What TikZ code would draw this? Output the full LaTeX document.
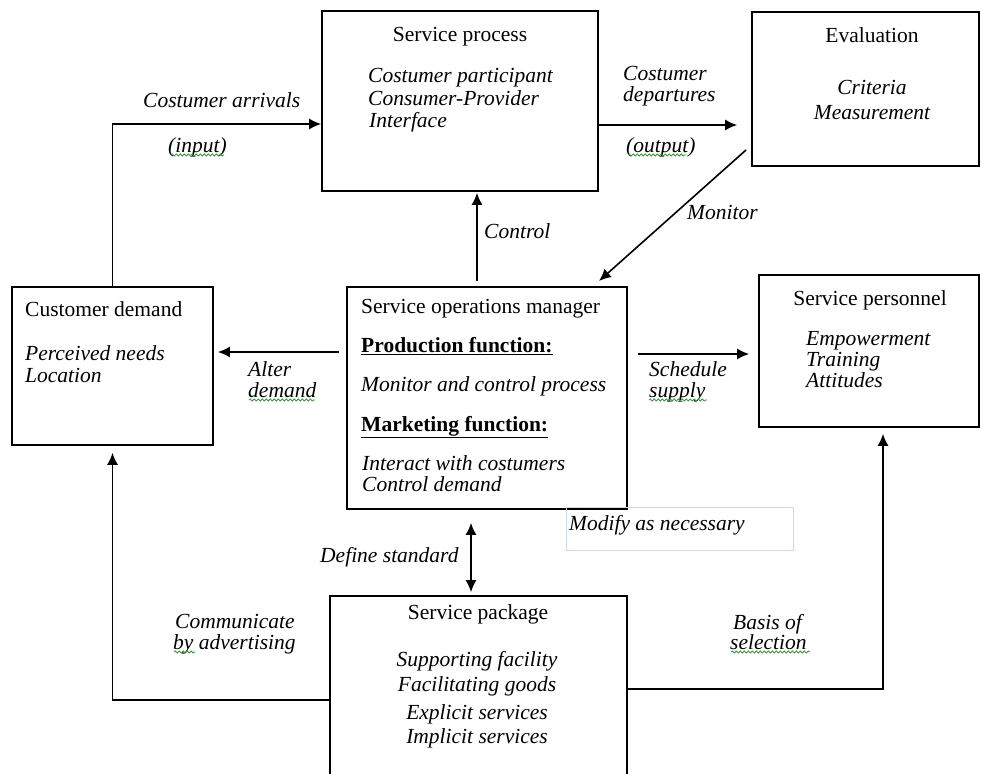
\documentclass[tikz,border=0pt]{standalone}
\usepackage{fontspec}
\setmainfont{Liberation Serif}
\usetikzlibrary{arrows.meta,fit,decorations.pathmorphing}
\newcommand\bodysize{\fontsize{21.5}{22}\selectfont}
\definecolor{paleblue}{RGB}{205,218,232}
\definecolor{spellgreen}{RGB}{60,150,60}
\begin{document}
\begin{tikzpicture}[x=1pt,y=-1pt,
  box/.style={draw, line width=1.6pt, inner sep=0pt},
  modbox/.style={draw=paleblue, line width=0.9pt, inner sep=0pt},
  up/.style={inner sep=0pt, anchor=base west, font=\bodysize},
  upc/.style={up, anchor=base},
  it/.style={inner sep=0pt, anchor=base west, font=\bodysize\itshape},
  itc/.style={it, anchor=base},
  hd/.style={inner sep=0pt, anchor=base west, font=\bodysize\bfseries},
  arr/.style={-{Latex[length=12pt,width=11pt]}, line width=1.6pt},
  dbl/.style={{Latex[length=12pt,width=11pt]}-{Latex[length=12pt,width=11pt]}, line width=1.6pt},
  squig/.style={draw=spellgreen, line width=0.8pt, decorate,
    decoration={snake, segment length=4pt, amplitude=1pt}}
]
\useasboundingbox (0,0) rectangle (981,773);

% ---- boxes ----
\node[box, fit={(322,11) (598,191)}] (proc) {};
\node[box, fit={(752,12) (979,166)}] (eval) {};
\node[box, fit={(12,287) (213,445)}] (cust) {};
\node[box, fit={(347,287) (627,509)}] (mgr) {};
\node[box, fit={(759,275) (979,427)}] (pers) {};
\node[box, fit={(330,596) (627,800)}] (pkg) {};
\node[modbox, fit={(566,507) (793,550)}] (mod) {};

% ---- service process ----
\node[upc] (procT) at (460,42) {Service process};
\node[it] (procA) at (368,83) {Costumer participant};
\node[it] (procB) at (368,106) {Consumer-Provider};
\node[it] (procC) at (369,128) {Interface};

% ---- evaluation ----
\node[upc] (evalT) at (872,43) {Evaluation};
\node[itc] (evalA) at (872,95) {Criteria};
\node[itc] (evalB) at (872,120) {Measurement};

% ---- customer demand ----
\node[up] (custT) at (25,316) {Customer demand};
\node[it] (custA) at (25,360) {Perceived needs};
\node[it] (custB) at (25,382) {Location};

% ---- service operations manager ----
\node[up] (mgrT) at (361,313) {Service operations manager};
\node[hd] (mgrP) at (361,352) {\underline{Production function:}};
\node[it] (mgrA) at (361,391) {Monitor and control process};
\node[hd] (mgrM) at (361,431) {\underline{Marketing function:}};
\node[it] (mgrB) at (362,470) {Interact with costumers};
\node[it] (mgrC) at (362,491) {Control demand};

% ---- service personnel ----
\node[upc] (persT) at (870,305) {Service personnel};
\node[it] (persA) at (806,345) {Empowerment};
\node[it] (persB) at (806,366) {Training};
\node[it] (persC) at (806,387) {Attitudes};

% ---- service package ----
\node[upc] (pkgT) at (478,619) {Service package};
\node[itc] (pkgA) at (477,666) {Supporting facility};
\node[itc] (pkgB) at (477,691) {Facilitating goods};
\node[itc] (pkgC) at (477,719) {Explicit services};
\node[itc] (pkgD) at (477,743) {Implicit services};

\node[it] (modT) at (569,530) {Modify as necessary};

% ---- connector labels ----
\node[it] (lArr) at (143,107) {Costumer arrivals};
\node[it] (lIn) at (168,152) {(input)};
\node[it] (lDepA) at (623,81) {Costumer};
\node[it] (lDepB) at (623,102) {departures};
\node[it] (lOut) at (626,152) {(output)};
\node[it] (lMon) at (687,219) {Monitor};
\node[it] (lCtl) at (484,238) {Control};
\node[it] (lAltA) at (248,376) {Alter};
\node[it] (lAltB) at (248,397) {demand};
\node[it] (lSchA) at (649,376) {Schedule};
\node[it] (lSchB) at (649,397) {supply};
\node[it] (lDef) at (320,562) {Define standard};
\node[it] (lComA) at (175,628) {Communicate};
\node[it] (lComB) at (173,649) {by advertising};
\node[it] (lBasA) at (733,629) {Basis of};
\node[it] (lBasB) at (730,649) {selection};

% ---- spell-check underlines ----
\draw[squig] (171,155) -- (224,155);
\draw[squig] (628,155) -- (686,155);
\draw[squig] (249,400) -- (315,400);
\draw[squig] (649,400) -- (707,400);
\draw[squig] (174,652) -- (195,652);
\draw[squig] (731,652) -- (810,652);

% ---- connectors ----
\coordinate (arrY) at (0,124);
\coordinate (depY) at (0,125);
\coordinate (monA) at (746,150);
\coordinate (monB) at (599,281);
\coordinate (ctlX) at (477,0);
\coordinate (altY) at (0,352);
\coordinate (schY) at (0,354);
\coordinate (defX) at (471,0);
\coordinate (comY) at (0,700);
\coordinate (basY) at (0,689);
\coordinate (basX) at (883,0);

\draw[arr] (cust.north) |- (proc.west |- arrY);
\draw[arr, shorten >=14pt] (proc.east |- depY) -- (eval.west |- depY);
\draw[arr] (monA) -- (monB);
\draw[arr, shorten <=5pt, shorten >=1pt] (mgr.north -| ctlX) -- (proc.south -| ctlX);
\draw[arr, shorten <=7pt, shorten >=4pt] (mgr.west |- altY) -- (cust.east |- altY);
\draw[arr, shorten <=10pt, shorten >=9pt] (mgr.east |- schY) -- (pers.west |- schY);
\draw[dbl, shorten <=13pt, shorten >=3pt] (mgr.south -| defX) -- (pkg.north -| defX);
\draw[arr, shorten >=7pt] (pkg.west |- comY) -| (cust.south);
\draw[arr, shorten >=6pt] (pkg.east |- basY) -| (pers.south -| basX);
\end{tikzpicture}
\end{document}
